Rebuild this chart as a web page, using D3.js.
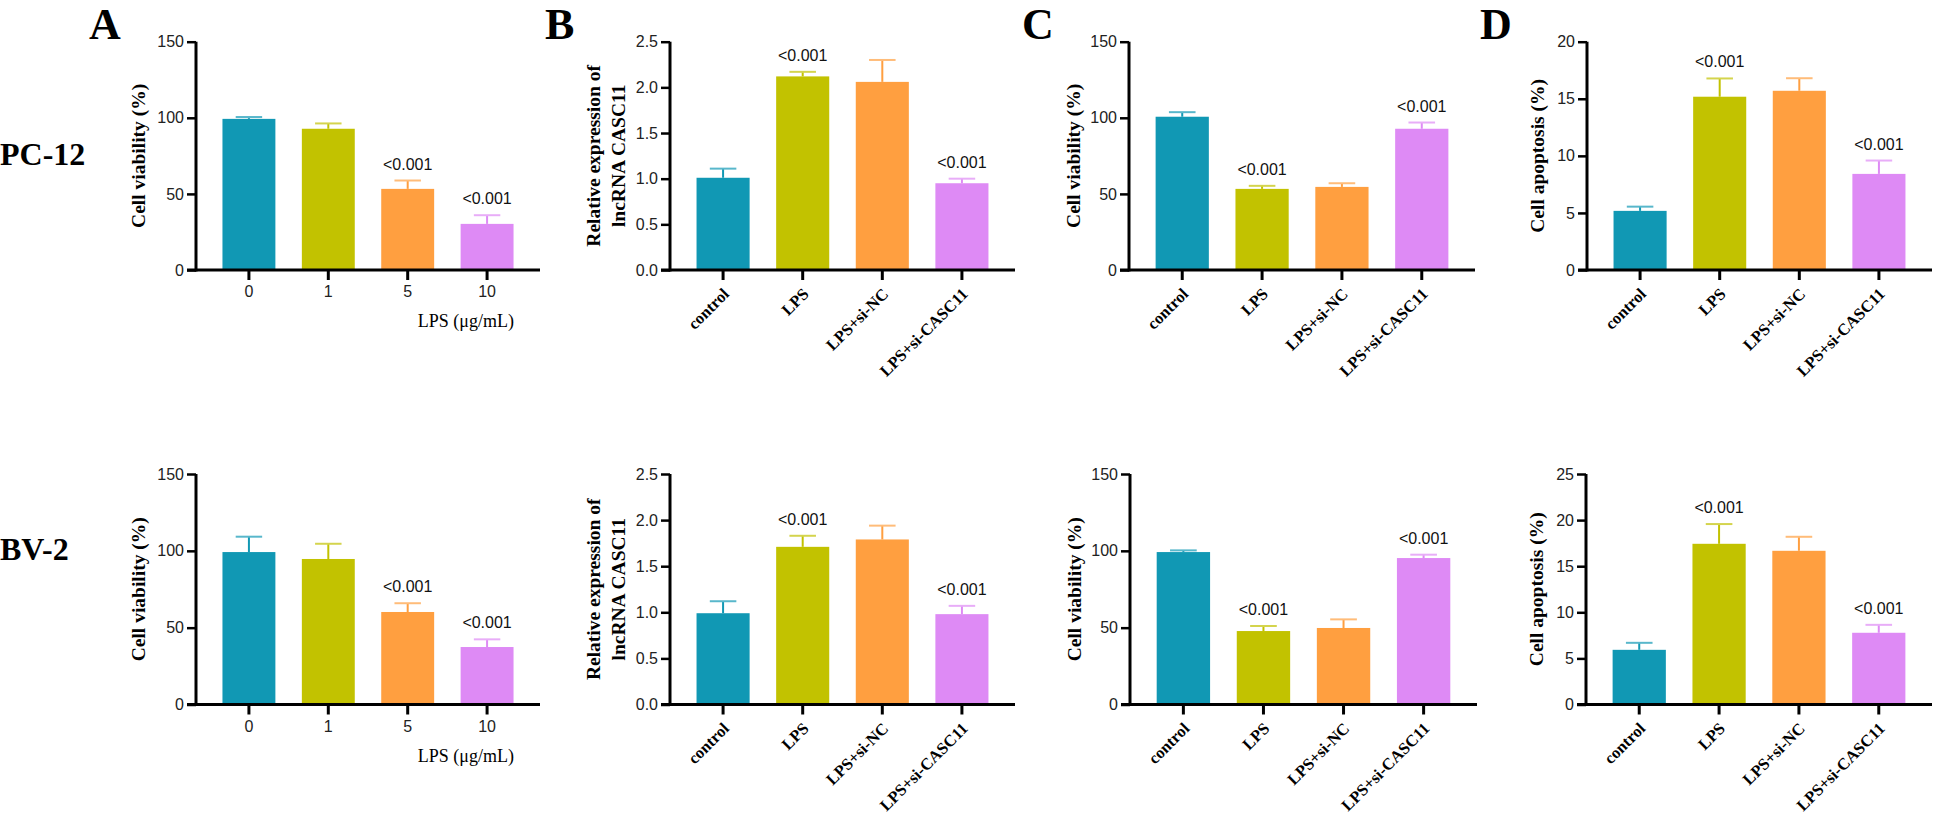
<!DOCTYPE html>
<html>
<head>
<meta charset="utf-8">
<script src="https://cdn.jsdelivr.net/npm/d3@7"></script>
<style>
body { margin: 0; background: #fff; }
</style>
</head>
<body>
<div id="fig"></div>
<script>

// categories
const doseLabels = ["0", "1", "5", "10"]
const groupLabels = ["control", "LPS", "LPS+si-NC", "LPS+si-CASC11"]
const doseP = ["", "", "<0.001", "<0.001"]
const groupP = ["", "<0.001", "", "<0.001"]

// PC-12 row
const pc12Viability = [99.3, 92.8, 53.3, 30.3]
const pc12ViabilityErr = [1.2, 3.5, 5.5, 5.7]
const pc12Casc11 = [1.01, 2.12, 2.06, 0.95]
const pc12Casc11Err = [0.10, 0.05, 0.24, 0.05]
const pc12Rescue = [100.7, 53.3, 54.6, 92.8]
const pc12RescueErr = [3.0, 2.0, 2.4, 4.1]
const pc12Apoptosis = [5.18, 15.18, 15.7, 8.42]
const pc12ApoptosisErr = [0.37, 1.6, 1.1, 1.17]

// BV-2 row
const bv2Viability = [99.2, 94.7, 60.2, 37.4]
const bv2ViabilityErr = [10.0, 9.9, 5.7, 5.0]
const bv2Casc11 = [0.99, 1.71, 1.79, 0.98]
const bv2Casc11Err = [0.13, 0.12, 0.15, 0.09]
const bv2Rescue = [99.2, 47.8, 49.8, 95.3]
const bv2RescueErr = [1.1, 3.3, 5.6, 2.2]
const bv2Apoptosis = [5.93, 17.43, 16.67, 7.78]
const bv2ApoptosisErr = [0.76, 2.14, 1.52, 0.86]

// tick labels
const viabilityTicks = [0, 50, 100, 150]
const expressionTicks = [0, 0.5, 1.0, 1.5, 2.0, 2.5]
const pc12ApoptosisTicks = [0, 5, 10, 15, 20]
const bv2ApoptosisTicks = [0, 5, 10, 15, 20, 25]

const palette = ["#1198b4", "#c2c200", "#ff9f40", "#de8af5"]

const serif = "'Liberation Serif', 'Times New Roman', serif"
const sans = "'Liberation Sans', Arial, sans-serif"

let svg = d3.select("#fig")
    .append("svg")
    .attr("width", 1934)
    .attr("height", 818)

const drawPanel = p => {

    let g = svg.append("g")

    let x = d3.scaleBand()
        .domain(p.labels)
        .range([p.axisX, p.axisEnd])
        .paddingInner(1/3)
        .paddingOuter(1/3)

    let y = d3.scaleLinear()
        .domain([0, d3.max(p.ticks)])
        .range([p.y0, p.yTop])

    let data = p.labels.map((label, i) => ({label, value: p.values[i], err: p.errors[i], pv: p.pvals[i], color: palette[i]}))

    // bars
    g.selectAll(".bar")
        .data(data)
        .enter()
        .append("rect")
        .attr("x", d => x(d.label))
        .attr("y", d => y(d.value))
        .attr("width", x.bandwidth())
        .attr("height", d => p.y0 - y(d.value))
        .attr("fill", d => d.color)

    // error bars
    let cx = d => x(d.label) + x.bandwidth()/2
    g.selectAll(".stem")
        .data(data)
        .enter()
        .append("line")
        .attr("x1", cx).attr("x2", cx)
        .attr("y1", d => y(d.value))
        .attr("y2", d => y(d.value + d.err))
        .attr("stroke", d => d.color)
        .attr("stroke-width", 2)
    g.selectAll(".cap")
        .data(data)
        .enter()
        .append("line")
        .attr("x1", d => cx(d) - x.bandwidth()/4)
        .attr("x2", d => cx(d) + x.bandwidth()/4)
        .attr("y1", d => y(d.value + d.err))
        .attr("y2", d => y(d.value + d.err))
        .attr("stroke", d => d3.interpolateRgb(d.color, "#fff")(0.3))
        .attr("stroke-width", 2)

    // p values
    g.selectAll(".pv")
        .data(data.filter(d => d.pv))
        .enter()
        .append("text")
        .text(d => d.pv)
        .attr("x", cx)
        .attr("y", d => y(d.value + d.err) - 11)
        .attr("text-anchor", "middle")
        .attr("font-family", sans)
        .attr("font-size", "16px")
        .attr("fill", "#111")

    // y axis
    let ya = g.append("g")
        .attr("transform", "translate(" + p.axisX + ",0)")
        .call(d3.axisLeft(y).tickValues(p.ticks).tickFormat(d3.format(p.fmt)).tickSize(9).tickSizeOuter(0).tickPadding(3))
    ya.select(".domain").attr("stroke-width", 3).attr("d", "M0," + (p.y0 + 1.5) + "V" + p.yTop)
    ya.selectAll(".tick line").attr("stroke-width", 2.5)
    ya.selectAll(".tick text").attr("font-family", sans).attr("font-size", "16px").attr("fill", "#222")

    // x axis
    let xa = g.append("g")
        .attr("transform", "translate(0," + p.y0 + ")")
        .call(d3.axisBottom(x).tickSize(10).tickSizeOuter(0).tickFormat(""))
    xa.select(".domain").remove()
    xa.selectAll(".tick line").attr("stroke-width", 3)
    g.append("line")
        .attr("x1", p.axisX - 9).attr("x2", p.axisEnd)
        .attr("y1", p.y0).attr("y2", p.y0)
        .attr("stroke", "#000").attr("stroke-width", 3)

    if (p.rotated) {
        g.selectAll(".xl")
            .data(p.labels)
            .enter()
            .append("text")
            .text(d => d)
            .attr("transform", d => "translate(" + (x(d) + x.bandwidth()/2 + 7) + "," + (p.y0 + 25) + ") rotate(-45)")
            .attr("text-anchor", "end")
            .attr("font-family", serif)
            .attr("font-weight", "bold")
            .attr("font-size", "16.5px")
    } else {
        g.selectAll(".xl")
            .data(p.labels)
            .enter()
            .append("text")
            .text(d => d)
            .attr("x", d => x(d) + x.bandwidth()/2)
            .attr("y", p.y0 + 27)
            .attr("text-anchor", "middle")
            .attr("font-family", sans)
            .attr("font-size", "16px")
            .attr("fill", "#222")
        g.append("text")
            .text("LPS (\u03bcg/mL)")
            .attr("x", p.axisEnd - 26)
            .attr("y", p.y0 + 57)
            .attr("text-anchor", "end")
            .attr("font-family", serif)
            .attr("font-size", "18px")
    }

    // y title
    p.title.forEach((line, i) => {
        g.append("text")
            .text(line)
            .attr("transform", "translate(" + p.titleX[i] + "," + ((p.y0 + p.yTop)/2) + ") rotate(-90)")
            .attr("text-anchor", "middle")
            .attr("font-family", serif)
            .attr("font-weight", "bold")
            .attr("font-size", "19.5px")
    })
}

const rows = [
    {y0: 270, yTop: 41.7, name: "PC-12", nameY: 165,
     sets: [[pc12Viability, pc12ViabilityErr], [pc12Casc11, pc12Casc11Err], [pc12Rescue, pc12RescueErr], [pc12Apoptosis, pc12ApoptosisErr]],
     apoTicks: pc12ApoptosisTicks,
     axes: [[196, 540], [670, 1015], [1129, 1475], [1587, 1932]],
     titleX: [[145], [600, 625], [1080], [1544]]},
    {y0: 704.5, yTop: 474, name: "BV-2", nameY: 560,
     sets: [[bv2Viability, bv2ViabilityErr], [bv2Casc11, bv2Casc11Err], [bv2Rescue, bv2RescueErr], [bv2Apoptosis, bv2ApoptosisErr]],
     apoTicks: bv2ApoptosisTicks,
     axes: [[196, 540], [670, 1015], [1130, 1477], [1586, 1932]],
     titleX: [[145], [600, 625], [1081], [1543]]}
]

rows.forEach(r => {
    const common = {y0: r.y0, yTop: r.yTop}
    drawPanel({...common, labels: doseLabels, values: r.sets[0][0], errors: r.sets[0][1], pvals: doseP,
        ticks: viabilityTicks, fmt: "d", axisX: r.axes[0][0], axisEnd: r.axes[0][1],
        title: ["Cell viability (%)"], titleX: r.titleX[0], rotated: false})
    drawPanel({...common, labels: groupLabels, values: r.sets[1][0], errors: r.sets[1][1], pvals: groupP,
        ticks: expressionTicks, fmt: ".1f", axisX: r.axes[1][0], axisEnd: r.axes[1][1],
        title: ["Relative expression of", "lncRNA CASC11"], titleX: r.titleX[1], rotated: true})
    drawPanel({...common, labels: groupLabels, values: r.sets[2][0], errors: r.sets[2][1], pvals: groupP,
        ticks: viabilityTicks, fmt: "d", axisX: r.axes[2][0], axisEnd: r.axes[2][1],
        title: ["Cell viability (%)"], titleX: r.titleX[2], rotated: true})
    drawPanel({...common, labels: groupLabels, values: r.sets[3][0], errors: r.sets[3][1], pvals: groupP,
        ticks: r.apoTicks, fmt: "d", axisX: r.axes[3][0], axisEnd: r.axes[3][1],
        title: ["Cell apoptosis (%)"], titleX: r.titleX[3], rotated: true})

    svg.append("text")
        .text(r.name)
        .attr("x", 0)
        .attr("y", r.nameY)
        .attr("font-family", serif)
        .attr("font-weight", "bold")
        .attr("font-size", "32px")
})

// panel letters
const panelLetters = ["A", "B", "C", "D"]
const letterX = [89, 545, 1022, 1480]
panelLetters.forEach((l, i) => {
    svg.append("text")
        .text(l)
        .attr("x", letterX[i])
        .attr("y", 39)
        .attr("font-family", serif)
        .attr("font-weight", "bold")
        .attr("font-size", "44px")
})

</script>
</body>
</html>
